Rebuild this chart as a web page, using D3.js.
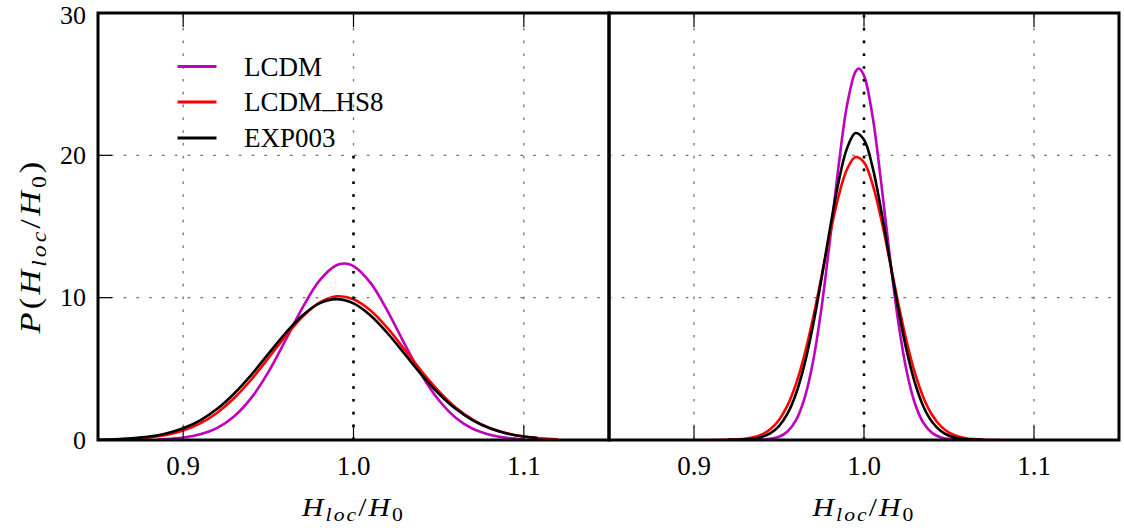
<!DOCTYPE html>
<html>
<head>
<meta charset="utf-8">
<script src="https://cdn.jsdelivr.net/npm/d3@7"></script>
<style>
  html,body{margin:0;padding:0;background:#fff;}
  text{font-family:"Liberation Serif","Times New Roman",serif;fill:#000;}
</style>
</head>
<body>
<svg id="chart" width="1124" height="530"></svg>
<script>
// ---------------- DATA ----------------
const seriesNames = ["LCDM", "LCDM_HS8", "EXP003"];
const seriesColors = ["#bf00bf", "#ff0000", "#000000"];
const xTicks = [0.9, 1.0, 1.1];
const xTickLabels = ["0.9", "1.0", "1.1"];
const yTicks = [0, 10, 20, 30];
const yTickLabels = ["0", "10", "20", "30"];
const refLineTop = [20, 30]; // top of dotted reference line at 1.0 per panel

// Left panel (wide distributions)
const leftLCDM_x = [0.885,0.89,0.90,0.91,0.92,0.93,0.94,0.95,0.96,0.97,0.98,0.99,0.995,1.00,1.01,1.02,1.03,1.04,1.05,1.06,1.07,1.08,1.09,1.10];
const leftLCDM_y = [0.04,0.06,0.17,0.40,0.85,1.67,2.96,4.77,6.99,9.28,11.20,12.28,12.40,12.22,11.04,9.06,6.75,4.57,2.81,1.57,0.79,0.37,0.15,0.06];
const leftHS8_x = [0.86,0.87,0.88,0.89,0.90,0.91,0.92,0.93,0.94,0.95,0.96,0.97,0.98,0.99,1.00,1.01,1.02,1.03,1.04,1.05,1.06,1.07,1.08,1.09,1.10,1.11,1.12];
const leftHS8_y = [0.04,0.09,0.18,0.36,0.67,1.17,1.92,2.95,4.25,5.74,7.28,8.65,9.65,10.09,9.89,9.10,7.86,6.36,4.83,3.44,2.29,1.44,0.84,0.47,0.24,0.12,0.05];
const leftEXP_x = [0.85,0.86,0.87,0.88,0.89,0.90,0.91,0.92,0.93,0.94,0.95,0.96,0.97,0.98,0.99,1.00,1.01,1.02,1.03,1.04,1.05,1.06,1.07,1.08,1.09,1.10,1.108];
const leftEXP_y = [0.02,0.05,0.12,0.24,0.46,0.82,1.38,2.19,3.27,4.58,6.05,7.50,8.75,9.60,9.90,9.60,8.75,7.50,6.05,4.58,3.27,2.19,1.38,0.82,0.46,0.24,0.14];

// Right panel (narrow distributions)
const rightLCDM_x = [0.92,0.93,0.94,0.945,0.95,0.955,0.96,0.965,0.97,0.975,0.98,0.985,0.99,0.995,0.997,1.00,1.005,1.01,1.015,1.02,1.025,1.03,1.035,1.04,1.045,1.05,1.06,1.07];
const rightLCDM_y = [0.00,0.00,0.03,0.08,0.23,0.60,1.40,2.93,5.50,9.28,14.08,19.19,23.51,25.88,26.10,25.60,22.77,18.19,13.07,8.43,4.89,2.55,1.19,0.50,0.19,0.07,0.01,0.00];
const rightHS8_x = [0.91,0.92,0.93,0.935,0.94,0.945,0.95,0.955,0.96,0.965,0.97,0.975,0.98,0.985,0.99,0.995,1.00,1.005,1.01,1.015,1.02,1.025,1.03,1.035,1.04,1.045,1.05,1.055,1.06,1.07,1.08];
const rightHS8_y = [0.00,0.02,0.09,0.19,0.39,0.77,1.41,2.43,3.94,5.99,8.55,11.47,14.45,17.11,19.02,19.88,19.51,17.98,15.58,12.68,9.69,6.96,4.69,2.97,1.77,0.99,0.52,0.26,0.12,0.02,0.00];
const rightEXP_x = [0.92,0.93,0.935,0.94,0.945,0.95,0.955,0.96,0.965,0.97,0.975,0.98,0.985,0.99,0.995,1.00,1.005,1.01,1.015,1.02,1.025,1.03,1.035,1.04,1.045,1.05,1.055,1.06,1.07];
const rightEXP_y = [0.01,0.04,0.09,0.22,0.48,0.98,1.85,3.25,5.31,8.04,11.34,14.86,18.10,20.49,21.57,21.10,19.19,16.22,12.75,9.31,6.32,3.99,2.34,1.28,0.65,0.30,0.13,0.05,0.01];

const panelsData = [
  [[leftLCDM_x, leftLCDM_y], [leftHS8_x, leftHS8_y], [leftEXP_x, leftEXP_y]],
  [[rightLCDM_x, rightLCDM_y], [rightHS8_x, rightHS8_y], [rightEXP_x, rightEXP_y]]
];

// ---------------- LAYOUT ----------------
const svg = d3.select("#chart");
const yTopPx = 13, yBotPx = 440;
const panels = [{x0: 98, x1: 609}, {x0: 609, x1: 1119}];
const y = d3.scaleLinear().domain([0, 30]).range([yBotPx, yTopPx]);
const FS = 27;

// horizontally stretch a text element about a centre to reach a target width
function fitWidth(sel, cx, target) {
  const bb = sel.node().getBBox();
  const s = target / bb.width;
  sel.attr("transform", `translate(${cx},0) scale(${s},1) translate(${-cx},0)`);
}

svg.append("defs").selectAll("clipPath").data(panels).join("clipPath")
  .attr("id", (d, i) => "clip" + i)
  .append("rect").attr("x", d => d.x0).attr("y", yTopPx).attr("width", d => d.x1 - d.x0).attr("height", yBotPx - yTopPx);

panels.forEach((p, pi) => {
  const x = d3.scaleLinear().domain([0.85, 1.15]).range([p.x0, p.x1]);
  const g = svg.append("g");
  const clipG = g.append("g").attr("clip-path", `url(#clip${pi})`);

  // curves
  const line = d3.line().x(d => x(d[0])).y(d => y(d[1])).curve(d3.curveCatmullRom.alpha(0.5));
  panelsData[pi].forEach((s, si) => {
    const pts = s[0].map((v, k) => [v, s[1][k]]);
    clipG.append("path").attr("d", line(pts)).attr("fill", "none")
      .attr("stroke", seriesColors[si]).attr("stroke-width", 2.6).attr("stroke-linejoin", "round");
  });

  // grid
  xTicks.forEach(t => {
    clipG.append("line").attr("x1", x(t)).attr("x2", x(t)).attr("y1", yBotPx).attr("y2", yTopPx)
      .attr("stroke", "#707070").attr("stroke-width", 1.3).attr("stroke-dasharray", "2.6,10.2");
  });
  yTicks.forEach(t => {
    clipG.append("line").attr("x1", p.x0).attr("x2", p.x1).attr("y1", y(t)).attr("y2", y(t))
      .attr("stroke", "#707070").attr("stroke-width", 1.3).attr("stroke-dasharray", "2.6,10.2");
  });

  // reference dotted line at 1.0
  clipG.append("line").attr("x1", x(1.0)).attr("x2", x(1.0)).attr("y1", yBotPx).attr("y2", y(refLineTop[pi]))
    .attr("stroke", "#000").attr("stroke-width", 2.6).attr("stroke-dasharray", "2.6,10.2");

  // ticks (inward)
  xTicks.forEach(t => {
    g.append("line").attr("x1", x(t)).attr("x2", x(t)).attr("y1", yBotPx).attr("y2", yBotPx - 14)
      .attr("stroke", "#000").attr("stroke-width", 1.2);
    g.append("line").attr("x1", x(t)).attr("x2", x(t)).attr("y1", yTopPx).attr("y2", yTopPx + 14)
      .attr("stroke", "#000").attr("stroke-width", 1.2);
  });
  if (pi === 0) {
    yTicks.forEach(t => {
      g.append("line").attr("x1", p.x0).attr("x2", p.x0 + 14).attr("y1", y(t)).attr("y2", y(t))
        .attr("stroke", "#000").attr("stroke-width", 1.2);
    });
  }

  // spines
  g.append("rect").attr("x", p.x0).attr("y", yTopPx).attr("width", p.x1 - p.x0).attr("height", yBotPx - yTopPx)
    .attr("fill", "none").attr("stroke", "#000").attr("stroke-width", 3);

  // x tick labels
  xTicks.forEach((t, k) => {
    g.append("text").attr("x", x(t)).attr("y", 475).attr("text-anchor", "middle")
      .attr("font-size", FS).text(xTickLabels[k]);
  });

  // x axis label  H_loc / H_0
  const cx = (p.x0 + p.x1) / 2;
  const xl = g.append("text").attr("x", cx).attr("y", 516).attr("text-anchor", "middle")
    .attr("font-size", 26).attr("letter-spacing", 1.8);
  xl.append("tspan").attr("font-style", "italic").text("H");
  xl.append("tspan").attr("font-style", "italic").attr("font-size", 19).attr("dy", 5).text("loc");
  xl.append("tspan").attr("dy", -5).text("/");
  xl.append("tspan").attr("font-style", "italic").text("H");
  xl.append("tspan").attr("font-size", 19).attr("dy", 5).text("0");
  fitWidth(xl, cx, 104);
});

// y tick labels
yTicks.forEach((t, k) => {
  svg.append("text").attr("x", 86).attr("y", Math.max(y(t) + 8.5, 23.5)).attr("text-anchor", "end")
    .attr("font-size", 26).text(yTickLabels[k]);
});

// y axis label P(H_loc/H_0)
const ylG = svg.append("g").attr("transform", "translate(40,246) rotate(-90)");
const yl = ylG.append("text").attr("x", 0).attr("y", 0)
  .attr("text-anchor", "middle").attr("font-size", 29).attr("letter-spacing", 2.6);
yl.append("tspan").attr("font-style", "italic").text("P");
yl.append("tspan").text("(");
yl.append("tspan").attr("font-style", "italic").text("H");
yl.append("tspan").attr("font-style", "italic").attr("font-size", 20).attr("dy", 6).text("loc");
yl.append("tspan").attr("dy", -6).text("/");
yl.append("tspan").attr("font-style", "italic").text("H");
yl.append("tspan").attr("font-size", 20).attr("dy", 6).text("0");
yl.append("tspan").attr("dy", -6).text(")");
fitWidth(yl, 0, 176);

// legend
const legY = [66.5, 102, 138];
seriesNames.forEach((n, i) => {
  svg.append("line").attr("x1", 177.5).attr("x2", 216.5).attr("y1", legY[i]).attr("y2", legY[i])
    .attr("stroke", seriesColors[i]).attr("stroke-width", 2.8);
  const t = svg.append("text").attr("x", 244).attr("y", legY[i] + 9).attr("font-size", FS);
  const parts = n.split("_");
  if (parts.length === 2) {
    t.append("tspan").text(parts[0]);
    t.append("tspan").attr("dy", -3.5).text("_");
    t.append("tspan").attr("dy", 3.5).text(parts[1]);
  } else {
    t.text(n);
  }
});
</script>
</body>
</html>
